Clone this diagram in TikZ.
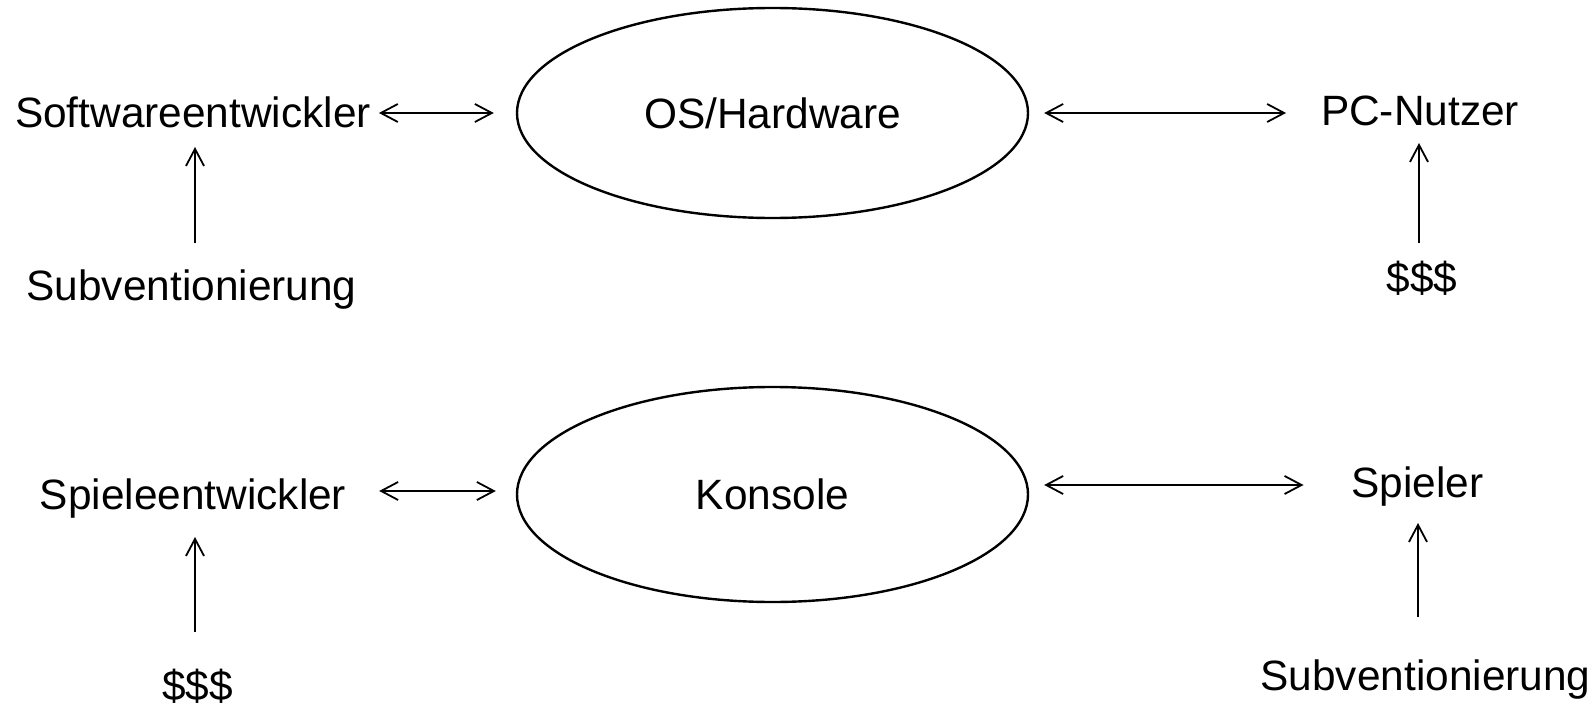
\documentclass[tikz,border=0pt]{standalone}
\usepackage{fontspec}
\setmainfont{Liberation Sans}
\usetikzlibrary{shapes.geometric,arrows.meta,calc}
\tikzset{
  lbl/.style={inner sep=0pt, outer sep=0pt, anchor=base, text height=15.26pt, text depth=4.45pt, font=\fontsize{21.2pt}{25pt}\selectfont},
  ellnode/.style={draw, ellipse, line width=1.2pt, inner sep=0pt, minimum width=255.5pt, font=\fontsize{21.2pt}{25pt}\selectfont},
  biarr/.style={line width=0.9pt, {Straight Barb[length=8.5pt,width=9pt]}-{Straight Barb[length=8.5pt,width=9pt]}},
  uparr/.style={line width=0.9pt, -{Straight Barb[length=8.5pt,width=9pt]}}
}
\begin{document}
\begin{tikzpicture}[x=0.5pt,y=-0.5pt]
\useasboundingbox (0,0) rectangle (1596,706);
% ellipses
\node[ellnode, minimum height=105pt] (ell1) at (772.5,113) {OS/Hardware};
\node[ellnode, minimum height=107.5pt] (ell2) at (772.5,494.5) {Konsole};
% labels
\node[lbl] (sw) at (193,127) {Softwareentwickler};
\node[lbl] (subv1) at (191.5,300) {Subventionierung};
\node[lbl] (pc) at (1420,126) {PC-Nutzer};
\node[lbl] (d1) at (1422,292) {\$\$\$};
\node[lbl] (spe) at (193,509) {Spieleentwickler};
\node[lbl] (d2) at (197.5,700) {\$\$\$};
\node[lbl] (spl) at (1417.5,497) {Spieler};
\node[lbl] (subv2) at (1425.5,690) {Subventionierung};
% horizontal connectors
\draw[biarr] ($(sw.east)+(8,-3.2)$) -- ($(ell1.west)+(-22,0)$);
\draw[biarr] ($(ell1.east)+(15,0)$) -- ($(pc.west)+(-35,-2.2)$);
\draw[biarr] ($(spe.east)+(33,-7.2)$) -- ($(ell2.west)+(-20,-3.5)$);
\draw[biarr] ($(ell2.east)+(15,-9.5)$) -- ($(spl.west)+(-48,-1.2)$);
% vertical connectors
\draw[uparr] ($(subv1.north)+(3.5,-26.5)$) -- ($(sw.south)+(2,11.1)$);
\draw[uparr] ($(d1.north)+(-3,-18.5)$) -- ($(pc.south)+(-1,8.1)$);
\draw[uparr] ($(d2.north)+(-2.5,-37.5)$) -- ($(spe.south)+(2,19.1)$);
\draw[uparr] ($(subv2.north)+(-7.5,-42.5)$) -- ($(spl.south)+(0.5,17.1)$);
\end{tikzpicture}
\end{document}
